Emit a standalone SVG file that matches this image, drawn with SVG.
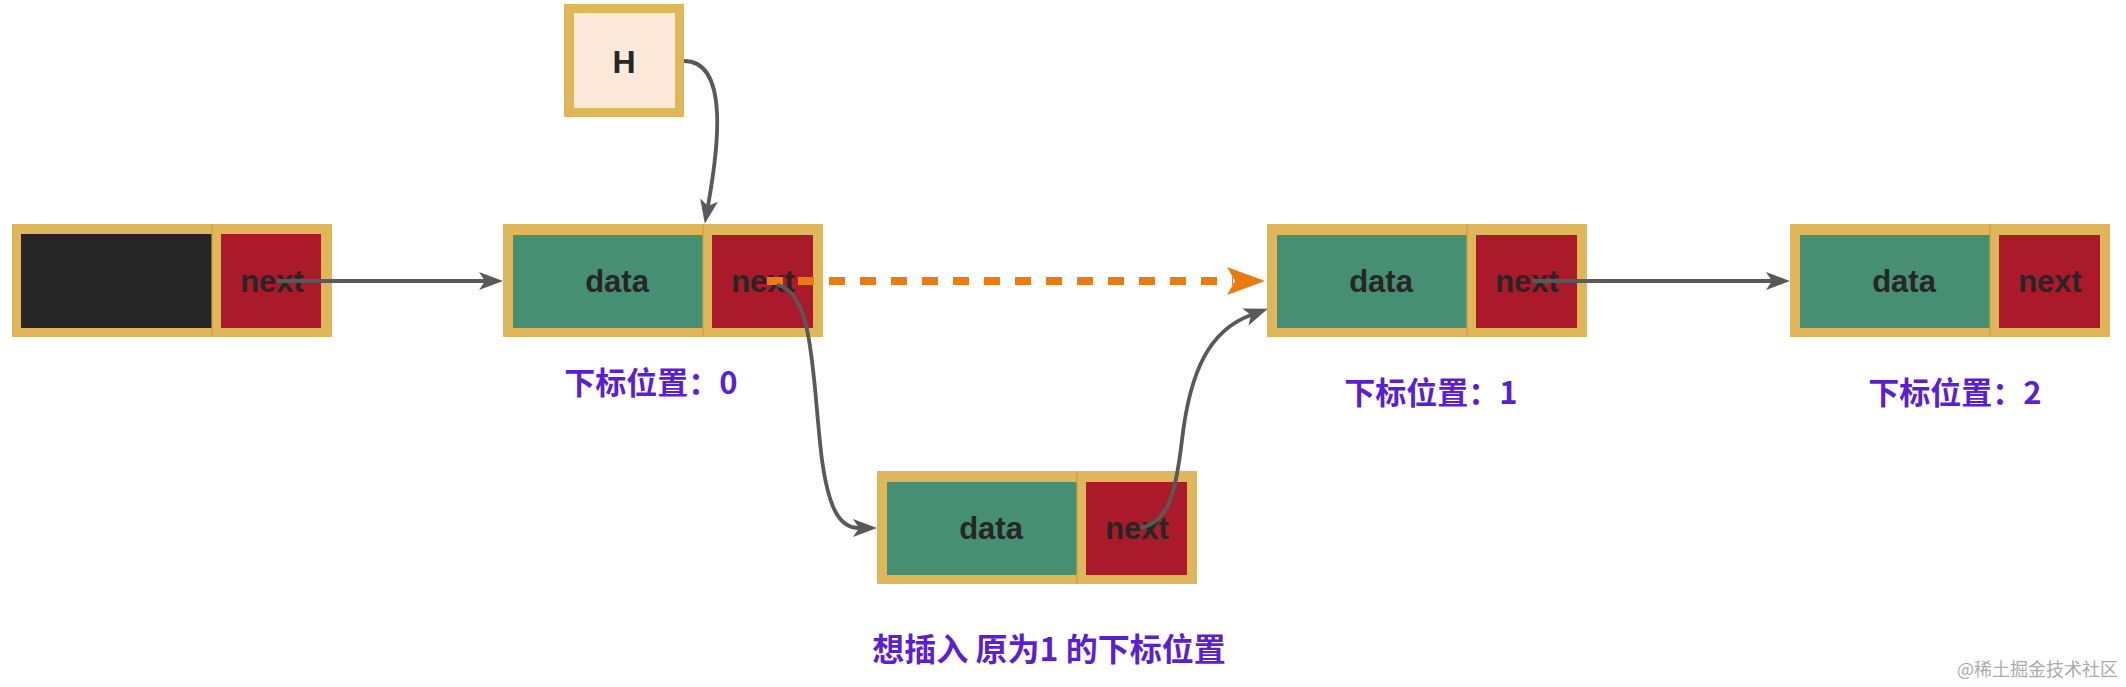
<svg xmlns="http://www.w3.org/2000/svg" width="2126" height="687" viewBox="0 0 2126 687">
<style>
.frame{fill:#E0B65B}
.div{stroke:#C99F48;stroke-width:1.2}
.data{fill:#478F72}
.next{fill:#AA1A2A}
.blk{fill:#262626}
.t{font-family:"Liberation Sans",Arial,sans-serif;font-weight:bold;font-size:31px;fill:#262626;text-anchor:middle}
.lbl{font-family:"Noto Sans CJK SC","Noto Sans",sans-serif;font-weight:bold;font-size:31px;fill:#5B1FD0;text-anchor:middle}
.wm{font-family:"Noto Sans CJK SC","Noto Sans",sans-serif;font-size:18px;fill:#ABABAB;text-anchor:end}
.gl{fill:none;stroke:#595959;stroke-width:3.8}
.ol{fill:none;stroke:#EA7A12;stroke-width:8;stroke-dasharray:16 15}
</style>
<defs>
<marker id="ga" viewBox="-8 -11 28 22" markerWidth="28" markerHeight="22" refX="0" refY="0" markerUnits="userSpaceOnUse" orient="auto">
<path d="M18,0 L-6,-9 L0,0 L-6,9 Z" fill="#595959"/>
</marker>
<marker id="oa" viewBox="-8 -16 42 32" markerWidth="42" markerHeight="32" refX="0" refY="0" markerUnits="userSpaceOnUse" orient="auto">
<path d="M32,0 L-6,-14 L2,0 L-6,14 Z" fill="#EA7A12"/>
</marker>
</defs>
<rect width="2126" height="687" fill="#FFFFFF"/>

<g id="node-head">
<rect class="frame" x="12" y="224" width="320" height="113"/>
<rect class="blk" x="21" y="234" width="191" height="94"/>
<rect class="next" x="221" y="234" width="100" height="94"/>
<line class="div" x1="212" y1="224" x2="212" y2="337"/>
<text class="t" x="272" y="292">next</text>
</g>

<g id="node-H">
<rect class="frame" x="564" y="4" width="120" height="113"/>
<rect x="574" y="13" width="101" height="95" fill="#FDE9DA"/>
<text class="t" x="624" y="73" style="font-size:32px">H</text>
</g>

<g id="node-0">
<rect class="frame" x="503" y="224" width="320" height="113"/>
<rect class="data" x="513" y="235" width="190" height="93"/>
<rect class="next" x="712" y="235" width="101" height="93"/>
<line class="div" x1="703" y1="224" x2="703" y2="337"/>
<text class="t" x="617" y="292">data</text>
<text class="t" x="763" y="292">next</text>
</g>

<g id="node-1">
<rect class="frame" x="1267" y="224" width="320" height="113"/>
<rect class="data" x="1277" y="235" width="190" height="93"/>
<rect class="next" x="1476" y="235" width="101" height="93"/>
<line class="div" x1="1467" y1="224" x2="1467" y2="337"/>
<text class="t" x="1381" y="292">data</text>
<text class="t" x="1527" y="292">next</text>
</g>

<g id="node-2">
<rect class="frame" x="1790" y="224" width="320" height="113"/>
<rect class="data" x="1800" y="235" width="190" height="93"/>
<rect class="next" x="1999" y="235" width="101" height="93"/>
<line class="div" x1="1990" y1="224" x2="1990" y2="337"/>
<text class="t" x="1904" y="292">data</text>
<text class="t" x="2050" y="292">next</text>
</g>

<g id="node-new">
<rect class="frame" x="877" y="471" width="320" height="113"/>
<rect class="data" x="887" y="482" width="190" height="93"/>
<rect class="next" x="1086" y="482" width="101" height="93"/>
<line class="div" x1="1077" y1="471" x2="1077" y2="584"/>
<text class="t" x="991" y="539">data</text>
<text class="t" x="1137" y="539">next</text>
</g>

<g id="labels">
<text class="lbl" x="651" y="394">下标位置：0</text>
<text class="lbl" x="1431" y="404">下标位置：1</text>
<text class="lbl" x="1955" y="404">下标位置：2</text>
<text class="lbl" x="1049" y="661" style="font-size:32px">想插入 原为1 的下标位置</text>
<text class="wm" x="2118" y="676">@稀土掘金技术社区</text>
</g>

<g id="connectors">
<path class="gl" d="M277,281 L485,281" marker-end="url(#ga)"/>
<path class="gl" d="M684,61 C730,61 718,150 708,206" marker-end="url(#ga)"/>
<path class="ol" d="M767,281 L1233,281" marker-end="url(#oa)"/>
<path class="gl" d="M777,285 C815,292 812,380 822,460 C829,510 840,528 859,528" marker-end="url(#ga)"/>
<path class="gl" d="M1140,528 C1170,522 1176,490 1182,440 C1190,370 1210,330 1251,315" marker-end="url(#ga)"/>
<path class="gl" d="M1532,281 L1772,281" marker-end="url(#ga)"/>
</g>
</svg>
